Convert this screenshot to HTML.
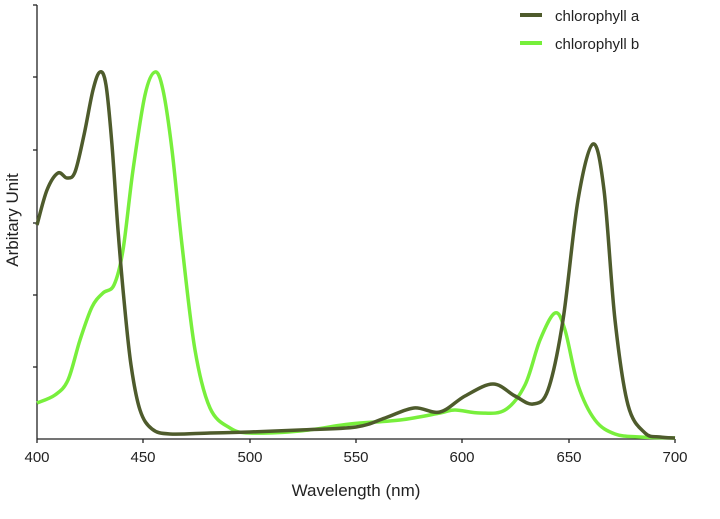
<!DOCTYPE html>
<html><head><meta charset="utf-8"><style>
html,body{margin:0;padding:0;background:#fff;width:720px;height:519px;overflow:hidden}
svg{display:block}
text{font-family:"Liberation Sans",sans-serif;fill:#222}
</style></head><body>
<svg id="s" width="720" height="519" viewBox="0 0 720 519">
<g stroke="#222" stroke-width="1.3">
<line x1="37" y1="5" x2="37" y2="439"/>
<line x1="37" y1="439" x2="675" y2="439"/>
<line x1="33" y1="5" x2="37" y2="5"/>
<line x1="33" y1="77" x2="37" y2="77"/>
<line x1="33" y1="150" x2="37" y2="150"/>
<line x1="33" y1="223" x2="37" y2="223"/>
<line x1="33" y1="295" x2="37" y2="295"/>
<line x1="33" y1="367" x2="37" y2="367"/>
<line x1="37" y1="439" x2="37" y2="443"/>
<line x1="143" y1="439" x2="143" y2="443"/>
<line x1="250" y1="439" x2="250" y2="443"/>
<line x1="356" y1="439" x2="356" y2="443"/>
<line x1="462" y1="439" x2="462" y2="443"/>
<line x1="569" y1="439" x2="569" y2="443"/>
<line x1="675" y1="439" x2="675" y2="443"/>
</g>
<g font-size="15" text-anchor="middle">
<text x="37" y="462">400</text><text x="143" y="462">450</text><text x="250" y="462">500</text>
<text x="356" y="462">550</text><text x="462" y="462">600</text><text x="569" y="462">650</text>
<text x="675" y="462">700</text>
</g>
<text x="356" y="496" font-size="17" text-anchor="middle">Wavelength (nm)</text>
<text transform="translate(18,220) rotate(-90)" font-size="17" text-anchor="middle">Arbitary Unit</text>
<line x1="520" y1="15" x2="542" y2="15" stroke="#4e5b2c" stroke-width="4"/>
<line x1="520" y1="43" x2="542" y2="43" stroke="#76ef3a" stroke-width="4"/>
<text x="555" y="21" font-size="15">chlorophyll a</text>
<text x="555" y="49" font-size="15">chlorophyll b</text>
<path id="pb" fill="none" stroke="#78ef3c" stroke-width="3.5" stroke-linejoin="round"/>
<path id="pa" fill="none" stroke="#4e5b2c" stroke-width="3.5" stroke-linejoin="round"/>
</svg>
<script>
function cr(p){var d="M"+p[0][0]+","+p[0][1];for(var i=0;i<p.length-1;i++){var p0=p[i-1]||p[i],p1=p[i],p2=p[i+1],p3=p[i+2]||p2;
d+=" C"+(p1[0]+(p2[0]-p0[0])/6)+","+(p1[1]+(p2[1]-p0[1])/6)+" "+(p2[0]-(p3[0]-p1[0])/6)+","+(p2[1]-(p3[1]-p1[1])/6)+" "+p2[0]+","+p2[1];}return d;}
var a=[[37,225],[47,190],[58,173],[67,178],[75,172],[84,135],[93,90],[100,72],[106,85],[112,145],[118,230],[124,300],[131,365],[140,410],[152,429],[170,434],[210,433],[250,432],[300,430],[356,427],[385,418],[414,408],[440,412],[465,396],[493,384],[515,396],[533,404],[548,390],[563,320],[578,200],[593,144],[604,190],[615,320],[628,405],[645,433],[660,437],[675,438]];
var b=[[37,403],[55,395],[68,380],[80,340],[92,307],[103,293],[114,285],[123,250],[133,170],[145,95],[155,72],[163,90],[172,150],[182,245],[195,350],[210,408],[230,428],[250,433],[300,431],[350,424],[400,420],[440,413],[455,410],[480,413],[505,410],[525,385],[540,340],[555,313],[565,330],[578,385],[595,420],[615,434],[640,437],[675,438]];
document.getElementById("pa").setAttribute("d",cr(a));
document.getElementById("pb").setAttribute("d",cr(b));
</script>
</body></html>
